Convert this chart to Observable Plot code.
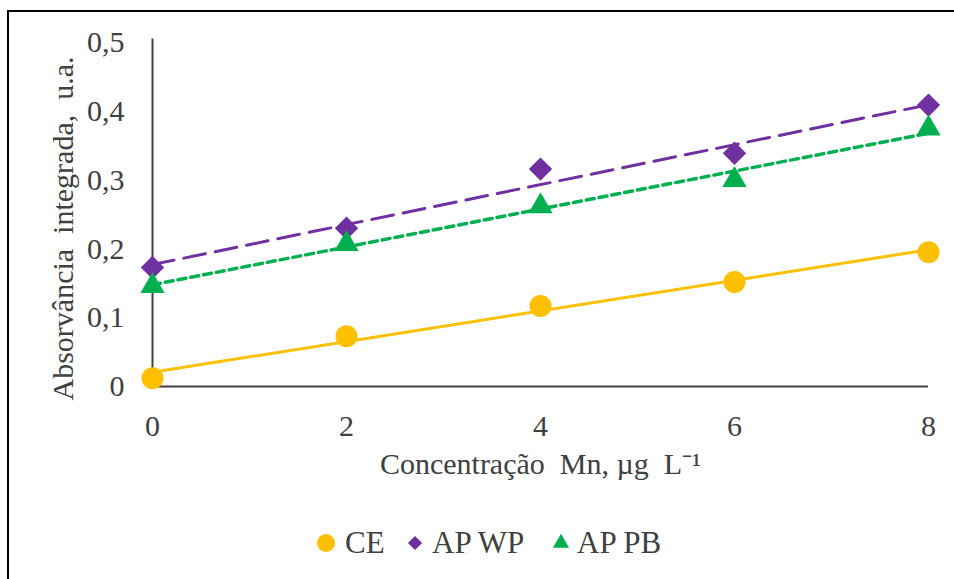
<!DOCTYPE html>
<html>
<head>
<meta charset="utf-8">
<script src="https://cdn.jsdelivr.net/npm/d3@7"></script>
<script src="https://cdn.jsdelivr.net/npm/@observablehq/plot@0.6"></script>
<style>
  body { margin: 0; background: #fff; }
  #wrap { position: relative; width: 954px; height: 579px; overflow: hidden; background: #fff; font-family: "Liberation Serif", "Times New Roman", serif; }
  #frame { position: absolute; left: 7px; top: 10px; width: 1000px; height: 1000px; border-top: 2px solid #000; border-left: 2px solid #000; box-sizing: border-box; }
  #chart { position: absolute; left: 0; top: 0; }
  #legend { position: absolute; left: 0; top: 510px; }
</style>
</head>
<body>
<div id="wrap">
  <div id="frame"></div>
  <div id="chart"></div>
  <div id="legend"></div>
</div>
<script>
// ---- data ----
const concentrations = [0, 2, 4, 6, 8];
const ceValues   = [0.012, 0.073, 0.117, 0.152, 0.195];
const apwpValues = [0.173, 0.230, 0.316, 0.339, 0.409];
const appbValues = [0.146, 0.207, 0.262, 0.300, 0.375];
const seriesNames = ["CE", "AP WP", "AP PB"];
const seriesColors = ["#FFC000", "#7030A0", "#00B050"];
const yTicks = [0, 0.1, 0.2, 0.3, 0.4, 0.5];
const xTicks = [0, 2, 4, 6, 8];
const xLabel = "Concentração\u00A0 Mn, µg\u00A0 L\u207B\u00B9";
const yLabel = "Absorvância\u00A0 integrada,\u00A0 u.a.";

const toRows = (name, vals) => concentrations.map((c, i) => ({series: name, x: c, y: vals[i]}));
const ce = toRows(seriesNames[0], ceValues);
const wp = toRows(seriesNames[1], apwpValues);
const pb = toRows(seriesNames[2], appbValues);

const fmt = d => d === 0 ? "0" : d.toFixed(1).replace(".", ",");
const serif = "'Liberation Serif', 'Times New Roman', serif";

const chart = Plot.plot({
  width: 954,
  height: 500,
  marginLeft: 152,
  marginRight: 26,
  marginTop: 42,
  marginBottom: 114,
  style: { fontFamily: serif, fontSize: "30px", color: "#404040", background: "transparent" },
  x: { domain: [0, 8], ticks: xTicks, tickSize: 0, tickPadding: 28, tickFormat: d => String(d), label: null },
  y: { domain: [0, 0.5], ticks: yTicks, tickSize: 0, tickPadding: 28, tickFormat: fmt, label: null },
  marks: [
    Plot.ruleY([0], { stroke: "#404040", strokeWidth: 2 }),
    Plot.ruleX([0], { y1: 0, y2: 0.505, stroke: "#404040", strokeWidth: 2 }),
    Plot.linearRegressionY(ce, { x: "x", y: "y", stroke: seriesColors[0], strokeWidth: 3, ci: 0 }),
    Plot.linearRegressionY(wp, { x: "x", y: "y", stroke: seriesColors[1], strokeWidth: 3, ci: 0, strokeDasharray: "22,10" }),
    Plot.linearRegressionY(pb, { x: "x", y: "y", stroke: seriesColors[2], strokeWidth: 3.5, ci: 0, strokeDasharray: "8,5" }),
    Plot.dot(ce, { x: "x", y: "y", r: 11, fill: seriesColors[0], symbol: "circle" }),
    Plot.dot(wp, { x: "x", y: "y", r: 10.5, fill: seriesColors[1], symbol: "diamond2" }),
    Plot.dot(pb, { x: "x", y: "y", r: 9, fill: seriesColors[2], symbol: "triangle" }),
    Plot.text([xLabel], { frameAnchor: "bottom", dy: 87, fontSize: 30, fill: "#404040", textAnchor: "middle", text: d => d }),
    Plot.text([yLabel], { frameAnchor: "left", dx: -89, dy: 14, rotate: -90, fontSize: 30, fill: "#404040", textAnchor: "middle", text: d => d })
  ]
});
document.getElementById("chart").appendChild(chart);

// ---- legend ----
const legendX = [326, 415, 561];
const legendTextX = [345, 432, 577];
const legendSym = [d3.symbolCircle, d3.symbolDiamond2, d3.symbolTriangle];
const legendR = [9, 6.4, 6];
const lg = d3.select("#legend").append("svg").attr("width", 954).attr("height", 69);
seriesNames.forEach((name, i) => {
  lg.append("path")
    .attr("transform", `translate(${legendX[i]},${33})`)
    .attr("d", d3.symbol(legendSym[i], Math.PI * legendR[i] * legendR[i])())
    .attr("fill", seriesColors[i]);
  lg.append("text")
    .attr("x", legendTextX[i]).attr("y", 43)
    .attr("font-family", serif)
    .attr("font-size", 31).attr("fill", "#404040")
    .text(name);
});
</script>
</body>
</html>
